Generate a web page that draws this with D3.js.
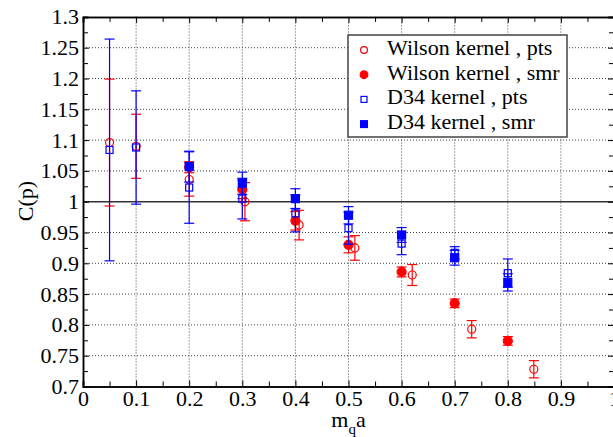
<!DOCTYPE html>
<html>
<head>
<meta charset="utf-8">
<script src="https://cdn.jsdelivr.net/npm/d3@7"></script>
</head>
<body style="margin:0;background:#fff">
<svg id="chart" width="613" height="437" style="display:block"></svg>
<script>
// ---- data ----
const xTickValues = [0, 0.1, 0.2, 0.3, 0.4, 0.5, 0.6, 0.7, 0.8, 0.9, 1];
const yTickValues = [0.7, 0.75, 0.8, 0.85, 0.9, 0.95, 1, 1.05, 1.1, 1.15, 1.2, 1.25, 1.3];
const xMinorTicks = [0.05, 0.15, 0.25, 0.35, 0.45, 0.55, 0.65, 0.75, 0.85, 0.95];
const yMinorTicks = [0.725, 0.775, 0.825, 0.875, 0.925, 0.975, 1.025, 1.075, 1.125, 1.175, 1.225, 1.275];

const seriesNames = ["Wilson kernel , pts", "Wilson kernel , smr", "D34 kernel , pts", "D34 kernel , smr"];

const wilsonPtsX   = [0.05, 0.1, 0.2, 0.305, 0.407, 0.512, 0.62, 0.732, 0.849];
const wilsonPtsY   = [1.096, 1.090, 1.036, 1.000, 0.962, 0.925, 0.881, 0.793, 0.728];
const wilsonPtsErr = [0.103, 0.052, 0.027, 0.031, 0.024, 0.020, 0.017, 0.014, 0.014];

const wilsonSmrX   = [0.2, 0.3, 0.4, 0.5, 0.6, 0.7, 0.8];
const wilsonSmrY   = [1.056, 1.020, 0.969, 0.930, 0.886, 0.835, 0.774];
const wilsonSmrErr = [0.009, 0.015, 0.015, 0.013, 0.008, 0.007, 0.007];

const d34PtsX   = [0.05, 0.1, 0.2, 0.3, 0.4, 0.5, 0.6, 0.7, 0.8];
const d34PtsY   = [1.084, 1.088, 1.023, 1.005, 0.981, 0.957, 0.932, 0.917, 0.884];
const d34PtsErr = [0.180, 0.092, 0.058, 0.033, 0.030, 0.026, 0.018, 0.010, 0.023];

const d34SmrX   = [0.2, 0.3, 0.4, 0.5, 0.6, 0.7, 0.8];
const d34SmrY   = [1.057, 1.030, 1.005, 0.978, 0.946, 0.909, 0.869];
const d34SmrErr = [0.025, 0.018, 0.016, 0.014, 0.012, 0.012, 0.014];

// ---- chart ----
const FONT = "Liberation Serif";
const svg = d3.select("#chart");
const x = d3.scaleLinear().domain([0, 1]).range([83, 614]);
const y = d3.scaleLinear().domain([0.7, 1.3]).range([386.5, 16.9]);

const fmt = d => String(+d.toFixed(3));

// grid lines
const grid = svg.append("g");
grid.selectAll("line.vg").data(xTickValues.filter(v => v > 0 && v < 1)).join("line")
  .attr("x1", d => x(d)).attr("x2", d => x(d))
  .attr("y1", y(0.7)).attr("y2", y(1.3))
  .attr("stroke", "#444").attr("stroke-width", 1).attr("stroke-dasharray", "1,2");
grid.selectAll("line.hg").data(yTickValues.filter(v => v > 0.7 && v < 1.3 && Math.abs(v - 1) > 1e-9)).join("line")
  .attr("x1", x(0)).attr("x2", x(1))
  .attr("y1", d => y(d)).attr("y2", d => y(d))
  .attr("stroke", "#444").attr("stroke-width", 1).attr("stroke-dasharray", "1,2");

// reference line at 1
svg.append("line")
  .attr("x1", x(0)).attr("x2", x(1)).attr("y1", y(1)).attr("y2", y(1))
  .attr("stroke", "#333").attr("stroke-width", 1.6);

// axes
const fontSize = 22;
const gx = svg.append("g").attr("transform", `translate(0,${y(0.7)})`)
  .call(d3.axisBottom(x).tickValues(xTickValues).tickSize(-6).tickPadding(4).tickFormat(fmt));
const gxm = svg.append("g").attr("transform", `translate(0,${y(0.7)})`)
  .call(d3.axisBottom(x).tickValues(xMinorTicks).tickSize(-5).tickFormat(""));
const gxt = svg.append("g").attr("transform", `translate(0,${y(1.3)})`)
  .call(d3.axisTop(x).tickValues(xTickValues).tickSize(-6).tickFormat(""));
const gxtm = svg.append("g").attr("transform", `translate(0,${y(1.3)})`)
  .call(d3.axisTop(x).tickValues(xMinorTicks).tickSize(-5).tickFormat(""));
const gy = svg.append("g").attr("transform", `translate(${x(0)},0)`)
  .call(d3.axisLeft(y).tickValues(yTickValues).tickSize(-6).tickPadding(4).tickFormat(fmt));
const gym = svg.append("g").attr("transform", `translate(${x(0)},0)`)
  .call(d3.axisLeft(y).tickValues(yMinorTicks).tickSize(-5).tickFormat(""));
const gyr = svg.append("g").attr("transform", `translate(${x(1)},0)`)
  .call(d3.axisRight(y).tickValues(yTickValues).tickSize(-6).tickFormat(""));
const gyrm = svg.append("g").attr("transform", `translate(${x(1)},0)`)
  .call(d3.axisRight(y).tickValues(yMinorTicks).tickSize(-5).tickFormat(""));

[gx, gxm, gxt, gxtm, gy, gym, gyr, gyrm].forEach(g => {
  g.selectAll(".domain").attr("stroke", "#000").attr("stroke-width", 1.5);
  g.selectAll(".tick line").attr("stroke", "#000").attr("stroke-width", 1);
  g.selectAll(".tick text")
    .style("font-family", FONT).style("font-size", fontSize + "px").attr("fill", "#000");
});

// axis titles
const xt = svg.append("text").attr("x", x(0.5)).attr("y", 427)
  .attr("text-anchor", "middle").style("font-family", FONT).style("font-size", "22px");
xt.append("tspan").text("m");
xt.append("tspan").attr("dy", 7).style("font-size", "15px").text("q");
xt.append("tspan").attr("dy", -7).text("a");

svg.append("text")
  .attr("transform", "translate(33,201) rotate(-90)")
  .attr("text-anchor", "middle").style("font-family", FONT).style("font-size", "22px")
  .text("C(p)");

// series
const series = [
  { xs: wilsonPtsX, ys: wilsonPtsY, es: wilsonPtsErr, color: "#ff0000", shape: "circle", filled: false },
  { xs: wilsonSmrX, ys: wilsonSmrY, es: wilsonSmrErr, color: "#ff0000", shape: "circle", filled: true },
  { xs: d34PtsX,    ys: d34PtsY,    es: d34PtsErr,    color: "#0000ff", shape: "square", filled: false },
  { xs: d34SmrX,    ys: d34SmrY,    es: d34SmrErr,    color: "#0000ff", shape: "square", filled: true }
];

function drawSymbol(g, cx, cy, s, scale) {
  const k = scale || 1;
  if (s.shape === "circle") {
    const r = (s.filled ? 4.5 : 4) * k;
    g.append("circle").attr("cx", cx).attr("cy", cy).attr("r", r)
      .attr("fill", s.filled ? s.color : "none")
      .attr("stroke", s.color).attr("stroke-width", 1.2);
  } else {
    const a = (s.filled ? 8 : 7) * k;
    g.append("rect").attr("x", cx - a / 2).attr("y", cy - a / 2)
      .attr("width", a).attr("height", a)
      .attr("fill", s.filled ? s.color : "none")
      .attr("stroke", s.color).attr("stroke-width", 1.2);
  }
}

const capHalf = 5;
series.forEach(s => {
  const g = svg.append("g");
  const pts = s.xs.map((v, i) => ({ x: v, y: s.ys[i], e: s.es[i] }));
  pts.forEach(p => {
    const px = x(p.x), top = y(p.y + p.e), bot = y(p.y - p.e);
    g.append("line").attr("x1", px).attr("x2", px).attr("y1", top).attr("y2", bot)
      .attr("stroke", s.color).attr("stroke-width", 1.2);
    [top, bot].forEach(yy => g.append("line")
      .attr("x1", px - capHalf).attr("x2", px + capHalf).attr("y1", yy).attr("y2", yy)
      .attr("stroke", s.color).attr("stroke-width", 1.2));
  });
  pts.forEach(p => drawSymbol(g, x(p.x), y(p.y), s));
});

// legend
const lg = svg.append("g");
lg.append("rect").attr("x", 348).attr("y", 35).attr("width", 219).attr("height", 102)
  .attr("fill", "#fff").attr("stroke", "#444").attr("stroke-width", 1.5);
seriesNames.forEach((name, i) => {
  const base = 55 + i * 24.7;
  drawSymbol(lg, 364, base - 5, series[i], 0.85);
  lg.append("text").attr("x", 387).attr("y", base)
    .style("font-family", FONT).style("font-size", "22px").text(name);
});
</script>
</body>
</html>
